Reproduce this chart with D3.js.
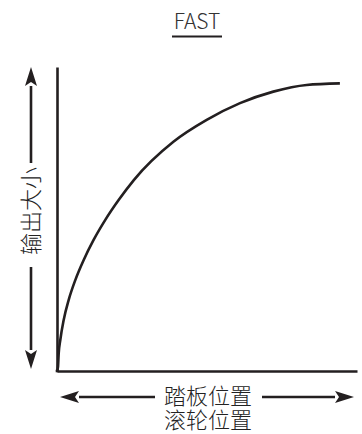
<!DOCTYPE html>
<html><head><meta charset="utf-8">
<script src="https://cdn.jsdelivr.net/npm/d3@7"></script>
<style>
html,body{margin:0;padding:0;background:#fff;}
svg{display:block;}
text{font-family:"Noto Sans CJK SC","Noto Sans",sans-serif;}
</style></head>
<body>
<script>
// Data
const title = "FAST";
const xLabelLines = ["踏板位置", "滚轮位置"];
const yLabel = "输出大小";
const curveX = [0, 0.33, 0.57, 1.1, 2.23, 3.9, 6.1, 8.9, 12.2, 16.1, 20.6, 25.6, 38.8, 49.9, 61, 72.1, 83.2, 94.3];
const curveY = [0, 1.4, 5.9, 10.2, 16.8, 23.4, 29.9, 36.5, 43.1, 49.7, 56.3, 62.8, 75.4, 82.6, 88.1, 91.9, 94.1, 94.6];

const W = 362, H = 434;
const m = {left: 57, right: 5, top: 67, bottom: 63};
const svg = d3.select("body").append("svg").attr("width", W).attr("height", H);

const x = d3.scaleLinear().domain([0, 100]).range([m.left, W - m.right]);
const y = d3.scaleLinear().domain([0, 100]).range([H - m.bottom, m.top]);

const ink = "#231f20";

// Axes (no ticks)
svg.append("g").attr("transform", `translate(0,${y(0)})`)
  .call(d3.axisBottom(x).tickValues([]).tickSizeOuter(0))
  .call(g => g.select(".domain").attr("stroke", ink).attr("stroke-width", 2.6));
svg.append("g").attr("transform", `translate(${x(0)},0)`)
  .call(d3.axisLeft(y).tickValues([]).tickSizeOuter(0))
  .call(g => g.select(".domain").attr("stroke", ink).attr("stroke-width", 2.6));
// square corner
svg.append("rect").attr("x", x(0) - 1.3).attr("y", y(0) - 1.3).attr("width", 2.6).attr("height", 2.6).attr("fill", ink);

// Curve
const pts = curveX.map((v, i) => [v, curveY[i]]);
svg.append("path").datum(pts)
  .attr("fill", "none").attr("stroke", ink).attr("stroke-width", 2.6)
  .attr("d", d3.line().x(d => x(d[0])).y(d => y(d[1])).curve(d3.curveMonotoneX));

// Title with underline
svg.append("text").attr("x", 197).attr("y", 28.5).attr("text-anchor", "middle")
  .attr("font-size", 21).attr("font-weight", 300).attr("fill", "#333")
  .attr("font-family", "'Open Sans','Noto Sans',sans-serif").text(title);
svg.append("line").attr("x1", 172).attr("x2", 222).attr("y1", 36.5).attr("y2", 36.5)
  .attr("stroke", ink).attr("stroke-width", 2.2);

// Arrow helper
function arrow(x1, y1, x2, y2) {
  const ang = Math.atan2(y2 - y1, x2 - x1);
  const L = 19, hw = 6;
  const bx = x2 - L * Math.cos(ang), by = y2 - L * Math.sin(ang);
  svg.append("line").attr("x1", x1).attr("y1", y1).attr("x2", bx).attr("y2", by)
    .attr("stroke", ink).attr("stroke-width", 2.6);
  const px = -Math.sin(ang) * hw, py = Math.cos(ang) * hw;
  svg.append("path").attr("fill", ink)
    .attr("d", `M${x2},${y2}L${bx + px},${by + py}L${bx + 4 * Math.cos(ang)},${by + 4 * Math.sin(ang)}L${bx - px},${by - py}Z`);
}

// Vertical arrows and label
const vx = 31;
arrow(vx, 163, vx, 67);
arrow(vx, 267, vx, 369);
svg.append("text").attr("transform", `translate(${vx + 8},211) rotate(-90)`)
  .attr("text-anchor", "middle").attr("font-size", 22).attr("font-weight", 300).attr("fill", "#222")
  .text(yLabel);

// Horizontal arrows and label
const hy = 397;
arrow(155, hy, 60, hy);
arrow(262, hy, 354, hy);
svg.append("text").attr("text-anchor", "middle").attr("font-size", 22).attr("font-weight", 300).attr("fill", "#222")
  .selectAll("tspan").data(xLabelLines).join("tspan")
  .attr("x", 208).attr("y", (d, i) => 404 + i * 24).text(d => d);
</script>
</body></html>
